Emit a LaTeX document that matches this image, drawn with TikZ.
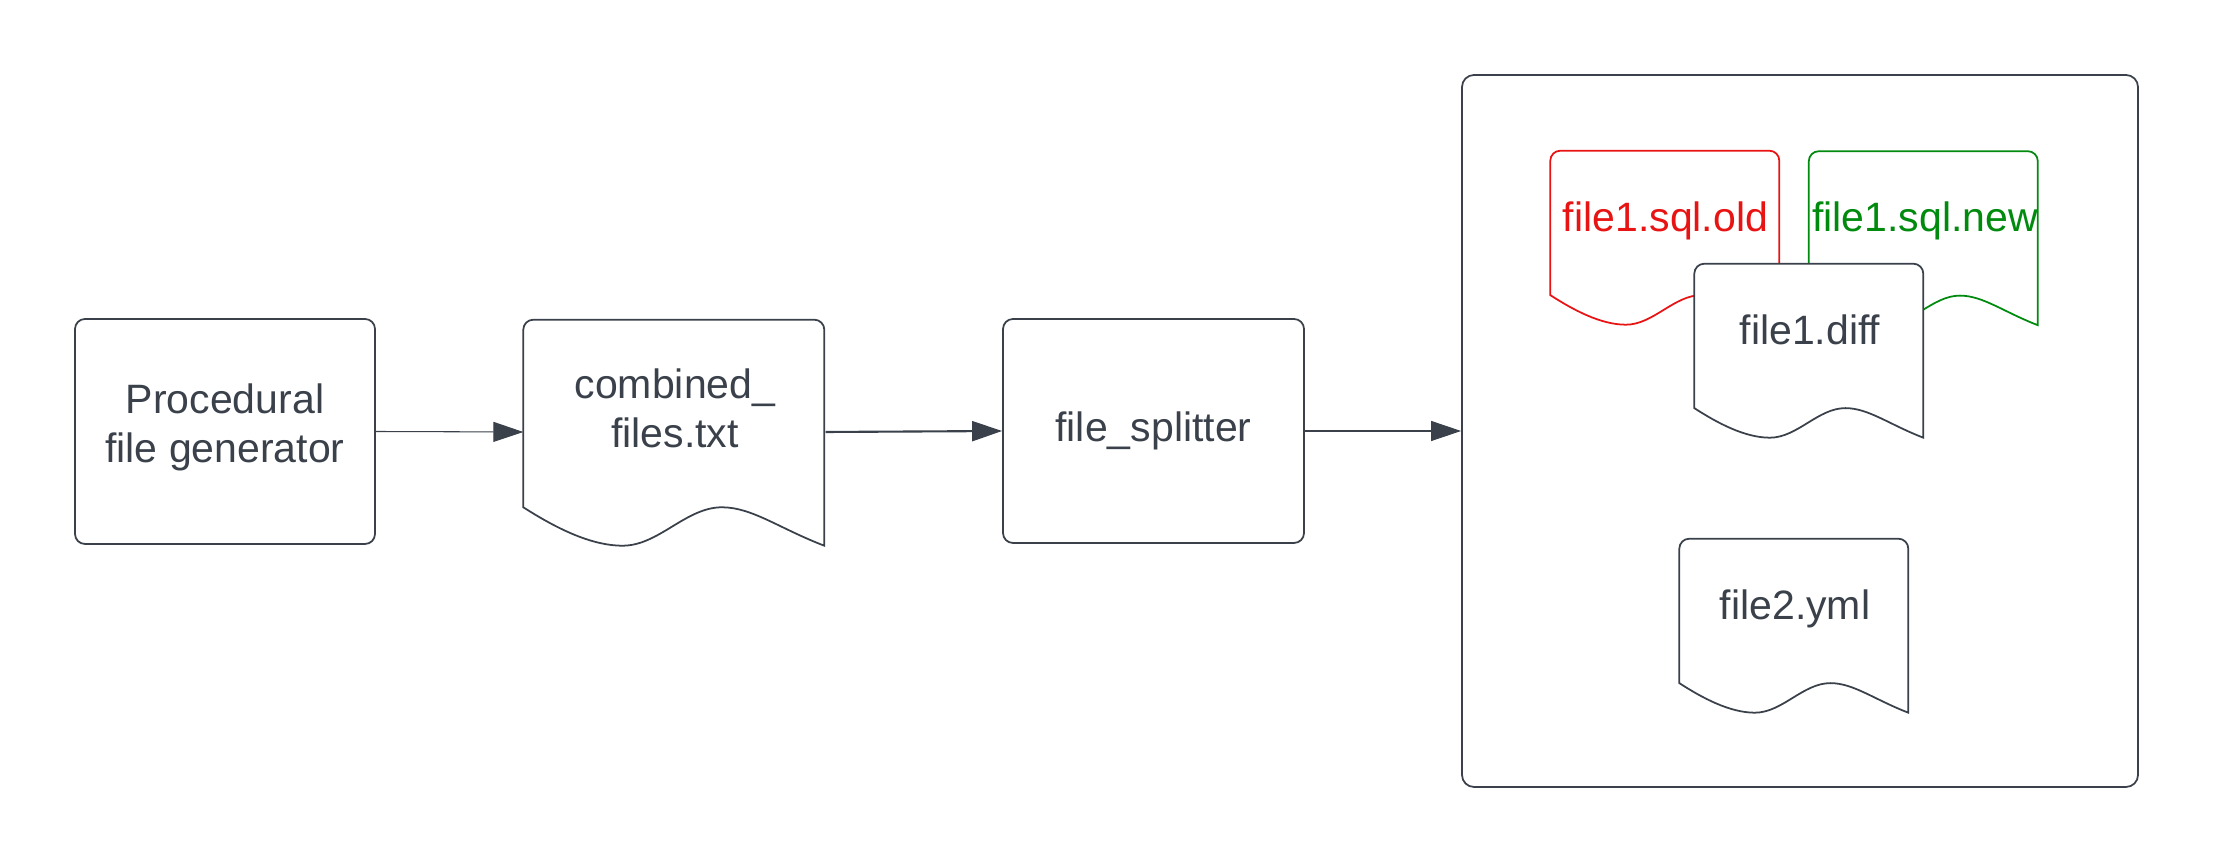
\documentclass[tikz,border=0pt]{standalone}
\usepackage{fontspec}
\setmainfont{Liberation Sans}
\usetikzlibrary{arrows.meta}
\definecolor{ink}{HTML}{3A414A}
\definecolor{oldred}{HTML}{E81313}
\definecolor{newgreen}{HTML}{008A0E}
\newcommand{\lblfont}{\fontsize{11.67}{13.9}\selectfont}
\tikzstyle{blk}=[draw=ink,line width=.5pt,rounded corners=1mm,minimum width=3cm,minimum height=2.25cm,align=center,text=ink,font=\lblfont]
\tikzstyle{frame}=[inner sep=0pt,minimum width=2.29cm,minimum height=1.74cm]
\tikzstyle{lbl}=[text=ink,font=\lblfont,anchor=base,inner sep=0pt]
\tikzstyle{conn}=[draw=ink,line width=.3pt,-{Triangle[length=3mm,width=2mm]}]

% document outline round a frame node: name, width, height, colour
\newcommand{\docshape}[4]{%
  \draw[#4,line width=.5pt,fill=white,shift={(#1.south west)}]
    (0,{.17*#3}) -- (0,{#3-.1}) arc[start angle=180,end angle=90,radius=.1]
    -- ({#2-.1},#3) arc[start angle=90,end angle=0,radius=.1] -- (#2,0)
    .. controls ({.85*#2},{.45*.17*#3}) and ({.76*#2},{.17*#3}) .. ({.66*#2},{.17*#3})
    .. controls ({.54*#2},{.17*#3}) and ({.45*#2},0) .. ({.33*#2},0)
    .. controls ({.22*#2},0) and ({.1*#2},{.5*.17*#3}) .. (0,{.17*#3}) -- cycle;}

\begin{document}
\begin{tikzpicture}
\useasboundingbox (0,0) rectangle (22.13,8.63);

\node[blk] (gen) at (2.25,4.315) {};
\node[lbl,anchor=center,align=center] (genT) at (2.25,4.355) {Procedural\\file generator};

\node[frame,minimum width=3.01cm,minimum height=2.26cm] (comb) at (6.745,4.31) {};
\docshape{comb}{3.01}{2.26}{ink}
\node[lbl,anchor=center,align=center] (combT) at (6.75,4.547) {combined\_\\files.txt};

\node[blk,minimum width=3.01cm,minimum height=2.24cm] (split) at (11.535,4.32) {file\_splitter};

\node[draw=ink,line width=.5pt,rounded corners=1.2mm,minimum width=6.76cm,minimum height=7.12cm] (out) at (18,4.32) {};

% the split files
\node[frame] (old) at (16.655,6.26) {};
\docshape{old}{2.29}{1.74}{oldred}
\node[lbl,text=oldred] (oldT) at (16.655,6.313) {file1.sql.old};
\node[frame] (new) at (19.24,6.255) {};
\docshape{new}{2.29}{1.74}{newgreen}
\node[lbl,text=newgreen] (newT) at (19.25,6.313) {file1.sql.new};
\node[frame] (diff) at (18.095,5.13) {};
\docshape{diff}{2.29}{1.74}{ink}
\node[lbl] (diffT) at (18.1,5.18) {file1.diff};
\node[frame] (yml) at (17.945,2.38) {};
\docshape{yml}{2.29}{1.74}{ink}
\node[lbl] (ymlT) at (17.95,2.43) {file2.yml};

\draw[conn] (gen.east) -- (comb.west);
\draw[conn,line width=.6pt] (comb.east) -- (split.west);
\draw[conn] (split.east) -- (out.west);
\end{tikzpicture}
\end{document}
